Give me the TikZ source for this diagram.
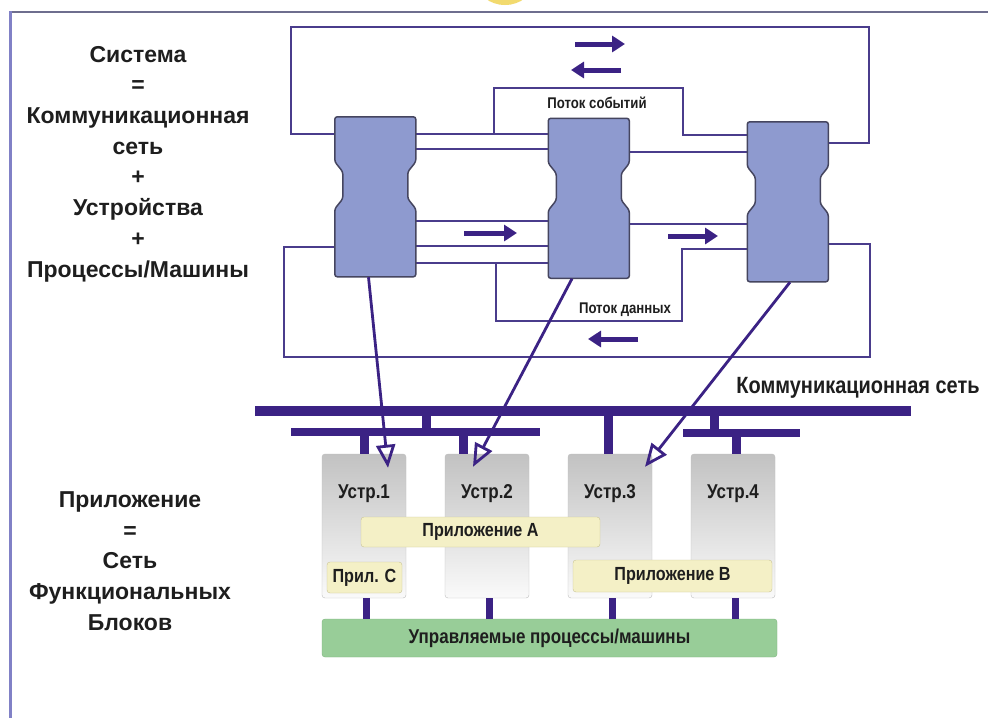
\documentclass[tikz,border=0pt]{standalone}
\usepackage{fontspec}
\setmainfont{Liberation Sans}
\newfontfamily\narrowsf{Liberation Sans}[FakeStretch=0.85]
\usepackage{xcolor}
\usetikzlibrary{calc, arrows.meta, positioning}

\definecolor{netviolet}{HTML}{3B2284}
\definecolor{wireviolet}{HTML}{4A3C8C}
\definecolor{blockblue}{HTML}{8E9ACF}
\definecolor{blockedge}{HTML}{45455F}
\definecolor{appyellow}{HTML}{F4F0C6}
\definecolor{appedge}{HTML}{C9C394}
\definecolor{procgreen}{HTML}{98CD98}
\definecolor{procedge}{HTML}{7EB57E}
\definecolor{frameblue}{HTML}{8181C6}
\definecolor{framegrey}{HTML}{6E6E8E}
\definecolor{sunyellow}{HTML}{F2DA6E}
\definecolor{inkgrey}{HTML}{1E1E1E}

\begin{document}
\begin{tikzpicture}[x=1pt, y=-1pt,
    wire/.style={draw=wireviolet, line width=2pt},
    flow/.style={draw=netviolet, line width=5pt, -{Triangle[length=13pt, width=16pt]}},
    maparrow/.style={draw=netviolet, line width=2.8pt, -{Triangle[open, length=23pt, width=19pt]}},
    bus/.style={draw=netviolet, line width=10pt},
    subbus/.style={draw=netviolet, line width=8pt},
    stub/.style={draw=netviolet, line width=9pt},
    blk/.style={minimum width=81pt, minimum height=160pt, inner sep=0pt},
    dev/.style={draw=gray!50, top color=gray!48, bottom color=gray!4, rounded corners=3pt,
      minimum width=84pt, minimum height=144pt, inner sep=0pt},
    devlabel/.style={text=inkgrey, font=\narrowsf\bfseries\fontsize{20}{24}\selectfont},
    app/.style={draw=appedge, fill=appyellow, rounded corners=3pt, inner sep=0pt, text=inkgrey,
      font=\narrowsf\bfseries\fontsize{19}{22}\selectfont},
    sidetext/.style={align=center, text=inkgrey, font=\bfseries\fontsize{23}{30.7}\selectfont},
    flowlabel/.style={text=inkgrey, font=\narrowsf\bfseries\fontsize{15.5}{18}\selectfont}]
  \useasboundingbox (0,0) rectangle (988,718);
  \fill[white] (0,0) rectangle (988,718);
  \fill[sunyellow] (505,-18) ellipse [x radius=28pt, y radius=23pt];
  \draw[framegrey, line width=2pt] (10,12) -- (988,12);
  \draw[frameblue, line width=3pt] (10,11) -- (10,718);

  \node[sidetext] (sys) at (138,164) {Система\\=\\Коммуникационная\\сеть\\+\\Устройства\\+\\Процессы/Машины};
  \node[sidetext] (appl) at (130,561) {Приложение\\=\\Сеть\\Функциональных\\Блоков};

  \node[blk] (b1) at (375.5,197) {};
  \node[blk] (b2) at (589,198.5) {};
  \node[blk] (b3) at (788,202) {};

  \draw[wire] (b1.west |- 0,134) -- (291,134) -- (291,27) -- (869,27) -- (869,143) -- (b3.east |- 0,143);
  \draw[wire] (b1.east |- 0,134) -- (b2.west |- 0,134);
  \coordinate (evfork) at (494,134);
  \draw[wire] (evfork) -- (494,88) -- (683,88) -- (683,135) -- (b3.west |- 0,135);
  \foreach \y in {148.5,221,245.5,263}
    \draw[wire] (b1.east |- 0,\y) -- (b2.west |- 0,\y);
  \foreach \y in {152,224}
    \draw[wire] (b2.east |- 0,\y) -- (b3.west |- 0,\y);
  \coordinate (datafork) at (496,263);
  \draw[wire] (datafork) -- (496,321) -- (682,321) -- (682,249) -- (b3.west |- 0,249);
  \draw[wire] (b1.west |- 0,247) -- (284,247) -- (284,357) -- (870,357) -- (870,244) -- (b3.east |- 0,244);

  \foreach \b in {b1,b2,b3}
    \filldraw[fill=blockblue, draw=blockedge, line width=1.5pt, rounded corners=2.5pt]
      (\b.north west) -- ++(81,0) -- ++(0,45) -- ++(-8,10) -- ++(0,27) -- ++(8,10) -- ++(0,68)
      -- ++(-81,0) -- ++(0,-68) -- ++(8,-10) -- ++(0,-27) -- ++(-8,-10) -- cycle;

  \draw[flow] (575,44) -- (625,44);
  \draw[flow] (621,70) -- (571,70);
  \draw[flow] (464,233) -- (517,233);
  \draw[flow] (668,236) -- (718,236);
  \draw[flow] (638,339) -- (588,339);
  \node[flowlabel] (evlabel) at (597,103) {Поток событий};
  \node[flowlabel] (datalabel) at (625,310) {Поток данных};

  \coordinate (busL) at (255,411);
  \coordinate (busR) at (911,411);
  \coordinate (subAL) at (291,432);
  \coordinate (subAR) at (540,432);
  \coordinate (subBL) at (683,433);
  \coordinate (subBR) at (800,433);
  \draw[bus] (busL) -- (busR);
  \draw[subbus] (subAL) -- (subAR);
  \draw[subbus] (subBL) -- (subBR);
  \draw[stub] (busL -| 426,0) -- (subAL -| 426,0);
  \draw[stub] (busL -| 714,0) -- (subBL -| 714,0);
  \node[devlabel, font=\narrowsf\bfseries\fontsize{23.5}{26}\selectfont] (netlabel) at (858,388) {Коммуникационная сеть};

  \node[dev] (d1) at (364,526) {};
  \node[dev] (d2) at (487,526) {};
  \node[dev] (d3) at (610,526) {};
  \node[dev] (d4) at (733,526) {};
  \foreach \i in {1,...,4}
    \node[devlabel] (t\i) at ([yshift=-40pt]d\i.north) {Устр.\i};
  \draw[stub] (d1.north) -- (d1.north |- subAL);
  \draw[stub] ([xshift=-24pt]d2.north) -- ([xshift=-24pt]d2.north |- subAL);
  \draw[stub] ([xshift=-2pt]d3.north) -- ([xshift=-2pt]d3.north |- busL);
  \draw[stub] ([xshift=3pt]d4.north) -- ([xshift=3pt]d4.north |- subBL);

  \node[app, minimum width=239pt, minimum height=30pt] (appA) at (480.5,532) {Приложение A};
  \node[app, minimum width=199pt, minimum height=32pt] (appB) at (672.5,576) {Приложение B};
  \node[app, minimum width=75pt, minimum height=31pt] (appC) at (364.5,577.5) {Прил. C};

  \node[draw=procedge, fill=procgreen, rounded corners=3pt, minimum width=455pt, minimum height=38pt,
    inner sep=0pt, text=inkgrey, font=\narrowsf\bfseries\fontsize{20}{24}\selectfont] (proc) at (549.5,638)
    {Управляемые процессы/машины};
  \foreach \i in {1,...,4}
    \draw[stub, line width=7pt] ([xshift=2pt]d\i.south) -- ([xshift=2pt]d\i.south |- proc.north);

  \draw[maparrow] ([xshift=-7pt]b1.south) -- ([xshift=24pt, yshift=-14pt]d1.north);
  \draw[maparrow] ([xshift=-17pt]b2.south) -- ([xshift=-14pt, yshift=-13pt]d2.north);
  \draw[maparrow] ([xshift=2pt]b3.south) -- ([xshift=35pt, yshift=-13pt]d3.north);
\end{tikzpicture}
\end{document}
